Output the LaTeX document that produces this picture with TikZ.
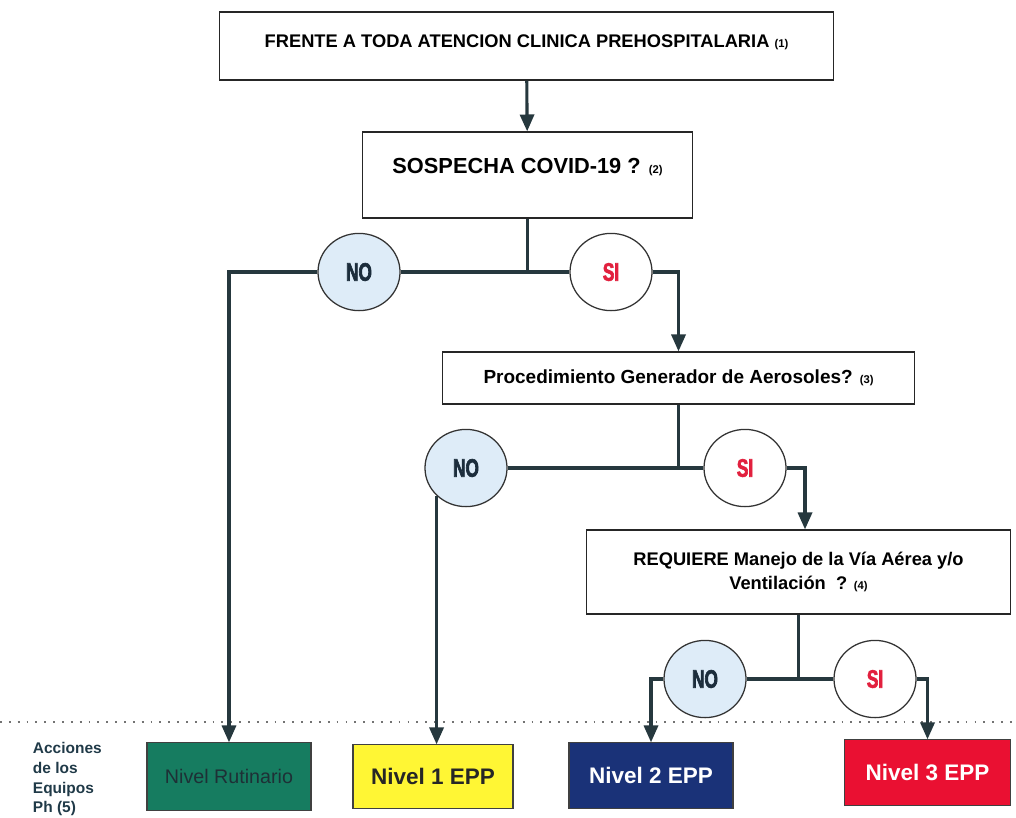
\documentclass[tikz,border=0pt]{standalone}
\usepackage{fontspec}
\setmainfont{Liberation Sans}
\newfontface\narrowbold[FakeStretch=0.68, FakeBold=2.5]{Liberation Sans Bold}
\usepackage{tikz}
\usetikzlibrary{arrows.meta, shapes.geometric, calc}

\definecolor{linecol}{RGB}{38,56,62}
\definecolor{nofill}{RGB}{222,236,248}
\definecolor{notext}{RGB}{28,45,60}
\definecolor{sitext}{RGB}{226,32,62}
\definecolor{rutgreen}{RGB}{22,124,96}
\definecolor{rutext}{RGB}{30,48,54}
\definecolor{epp1}{RGB}{255,246,52}
\definecolor{epp2}{RGB}{26,50,120}
\definecolor{epp3}{RGB}{234,16,50}
\definecolor{labcol}{RGB}{32,58,72}

\tikzset{
    qbox/.style={draw=black!85, line width=0.9pt, fill=white, align=center, inner sep=2pt},
    answer/.style={ellipse, draw=black!80, line width=0.9pt, minimum width=2.05cm, minimum height=1.93cm, inner sep=0pt, font=\narrowbold\fontsize{18}{20}\selectfont},
    nobub/.style={answer, fill=nofill, text=notext},
    sibub/.style={answer, fill=white, text=sitext},
    level/.style={draw=black!75, line width=0.8pt, minimum width=4.1cm, minimum height=1.63cm, inner sep=0pt, font=\bfseries\fontsize{16}{19}\selectfont},
    conn/.style={draw=linecol, line width=2.2pt},
    arr/.style={conn, -{Triangle[width=10pt, length=12pt]}}
}

\newcommand{\refnum}[1]{{\fontsize{8}{10}\selectfont #1}}

\begin{document}
\begin{tikzpicture}[x=0.025cm, y=-0.025cm]
    \useasboundingbox (0,0) rectangle (1016,817);

    \node[qbox, minimum width=15.33cm, minimum height=1.7cm, text depth=0.25cm, font=\bfseries\fontsize{13}{15}\selectfont] (frente) at (526.5,46) {FRENTE A TODA ATENCION CLINICA PREHOSPITALARIA \refnum{(1)}};
    \node[qbox, minimum width=8.23cm, minimum height=2.15cm, text depth=0.45cm, font=\bfseries\fontsize{15.5}{18}\selectfont] (sospecha) at (527.5,175) {SOSPECHA COVID-19 ? \refnum{(2)}};
    \node[qbox, minimum width=11.78cm, minimum height=1.3cm, font=\bfseries\fontsize{13.5}{16}\selectfont] (aerosol) at (678.5,378) {Procedimiento Generador de Aerosoles? \refnum{(3)}};
    \node[qbox, minimum width=10.58cm, minimum height=2.1cm, font=\bfseries\fontsize{13}{17}\selectfont] (via) at (798.5,572) {REQUIERE Manejo de la Vía Aérea y/o\\Ventilación\ \ ? \refnum{(4)}};

    \node[nobub] (no1) at (359,272) {NO};
    \node[sibub] (si1) at (611,272) {SI};
    \node[nobub] (no2) at (466,468) {NO};
    \node[sibub] (si2) at (745,468) {SI};
    \node[nobub] (no3) at (705,679) {NO};
    \node[sibub] (si3) at (875,679) {SI};

    \draw[dotted, black!55, line width=1.3pt, dash pattern=on 1.3pt off 5pt] (0,722) -- (1016,722);

    \node[level, fill=rutgreen, text=rutext, font=\fontsize{14}{16}\selectfont, minimum height=1.68cm] (rutina) at (229,776.5) {Nivel Rutinario};
    \node[level, fill=epp1, text=black!85, minimum width=4.0cm, minimum height=1.58cm] (nivel1) at (433,776.5) {Nivel 1 EPP};
    \node[level, fill=epp2, text=white] (nivel2) at (651,775.5) {Nivel 2 EPP};
    \node[level, fill=epp3, text=white, minimum width=4.13cm] (nivel3) at (927.5,772.5) {Nivel 3 EPP};

    \node[anchor=west, align=left, text=labcol, font=\bfseries\fontsize{11}{14.2}\selectfont] (acciones) at (28,779) {Acciones\\de los\\Equipos\\Ph (5)};

    \coordinate (j1) at (sospecha.south |- no1.center);
    \coordinate (j2) at (aerosol.south |- no2.center);
    \coordinate (j3) at (via.south |- no3.center);

    \draw[arr] (frente) -- (sospecha);
    \draw[conn] (sospecha.south) -- (j1);
    \draw[conn] (no1.east) -- (j1) -- (si1.west);
    \draw[arr] (no1.west) -| (rutina.north);
    \draw[arr] (si1.east) -| (aerosol.north);

    \draw[conn] (aerosol.south) -- (j2);
    \draw[conn] (no2.east) -- (j2) -- (si2.west);
    \draw[arr] (no2.south west) -- (no2.south west |- nivel1.north);
    \draw[arr] (si2.east) -| ($(via.north)+(6.5,0)$);

    \draw[conn] (via.south) -- (j3);
    \draw[conn] (no3.east) -- (j3) -- (si3.west);
    \draw[arr] (no3.west) -| (nivel2.north);
    \draw[arr] (si3.east) -| (nivel3.north);
\end{tikzpicture}
\end{document}
